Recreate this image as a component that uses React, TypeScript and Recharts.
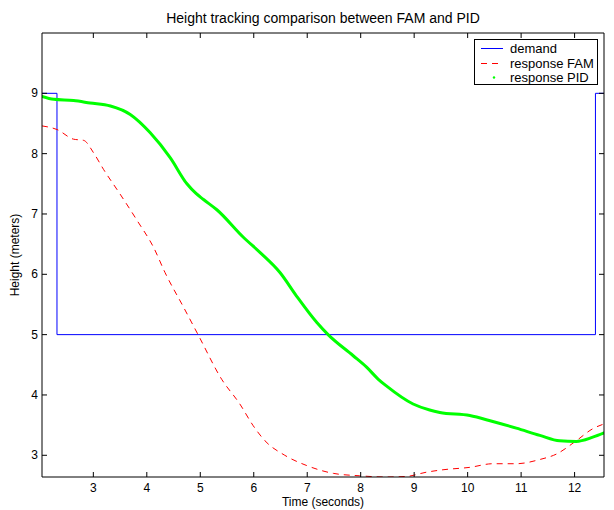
import React from "react";
import { LineChart, Line, XAxis, YAxis } from "recharts";

// demand step signal
const demandTime = [2.04, 2.32, 2.32, 12.39, 12.39, 12.55];
const demandHeight = [9, 9, 5, 5, 9, 9];

// FAM controller response
const famTime = [
  2.04, 2.32, 2.63, 2.82, 3.0, 3.19, 3.5, 3.82, 4.13, 4.34, 4.69, 4.97, 5.4, 5.74, 5.99, 6.21,
  6.58, 6.99, 7.49, 7.98, 8.48, 8.86, 9.23, 9.54, 10.04, 10.47, 10.91, 11.35, 11.66, 12.03, 12.34, 12.55,
];
const famHeight = [
  8.46, 8.4, 8.24, 8.22, 8.02, 7.74, 7.33, 6.89, 6.44, 6.03, 5.45, 4.98, 4.26, 3.85, 3.49, 3.24,
  3.0, 2.83, 2.7, 2.66, 2.64, 2.65, 2.72, 2.76, 2.8, 2.86, 2.86, 2.93, 3.02, 3.24, 3.44, 3.52,
];

// PID controller response
const pidTime = [
  2.04, 2.26, 2.63, 2.94, 3.32, 3.69, 4.06, 4.44, 4.75, 4.92, 5.06, 5.31, 5.81, 6.12, 6.49, 6.8,
  7.18, 7.39, 7.86, 8.11, 8.33, 8.48, 8.98, 9.29, 9.48, 10.04, 10.47, 10.91, 11.35, 11.72, 12.03, 12.34, 12.55,
];
const pidHeight = [
  8.95, 8.9, 8.88, 8.84, 8.79, 8.65, 8.35, 7.93, 7.5, 7.34, 7.24, 7.07, 6.61, 6.36, 6.03, 5.64,
  5.2, 5.0, 4.65, 4.46, 4.26, 4.15, 3.85, 3.75, 3.71, 3.66, 3.56, 3.45, 3.33, 3.24, 3.23, 3.3, 3.37,
];

const xTicks = [3, 4, 5, 6, 7, 8, 9, 10, 11, 12];
const yTicks = [3, 4, 5, 6, 7, 8, 9];

const demandData = demandTime.map((t, i) => ({ t, v: demandHeight[i] }));
const famData = famTime.map((t, i) => ({ t, v: famHeight[i] }));
const pidData = pidTime.map((t, i) => ({ t, v: pidHeight[i] }));

const FONT = "'Liberation Sans', Arial, Helvetica, sans-serif";

const BottomTick = ({ x, y, payload }: any) => (
  <g>
    <line x1={x} y1={y} x2={x} y2={y - 5} stroke="#000" />
    <text x={x} y={y + 11} textAnchor="middle" dominantBaseline="central" fontSize={12} fontFamily={FONT} fill="#000">
      {payload.value}
    </text>
  </g>
);

const TopTick = ({ x, y }: any) => <line x1={x} y1={y} x2={x} y2={y + 5} stroke="#000" />;

const LeftTick = ({ x, y, payload }: any) => (
  <g>
    <line x1={x} y1={y} x2={x + 5} y2={y} stroke="#000" />
    <text x={x - 4} y={y} textAnchor="end" dominantBaseline="central" fontSize={12} fontFamily={FONT} fill="#000">
      {payload.value}
    </text>
  </g>
);

const RightTick = ({ x, y }: any) => <line x1={x} y1={y} x2={x - 5} y2={y} stroke="#000" />;

const TitleLabel = ({ viewBox }: any) => (
  <text x={viewBox.x + viewBox.width / 2} y={18} textAnchor="middle" dominantBaseline="central" fontSize={14} fontFamily={FONT} fill="#000">
    Height tracking comparison between FAM and PID
  </text>
);

const XTitle = ({ viewBox }: any) => (
  <text x={viewBox.x + viewBox.width / 2} y={viewBox.y + 25} textAnchor="middle" dominantBaseline="central" fontSize={12} fontFamily={FONT} fill="#000">
    Time (seconds)
  </text>
);

const YTitle = ({ viewBox }: any) => {
  const cx = viewBox.x + 15;
  const cy = viewBox.y + viewBox.height / 2;
  return (
    <text x={cx} y={cy} transform={`rotate(-90, ${cx}, ${cy})`} textAnchor="middle" dominantBaseline="central" fontSize={12} fontFamily={FONT} fill="#000">
      Height (meters)
    </text>
  );
};

const LegendBox = () => (
  <svg width={124} height={46} style={{ display: "block" }}>
    <rect x={0.5} y={0.5} width={123} height={45} fill="#fff" stroke="#000" />
    <line x1={7} y1={9.5} x2={29} y2={9.5} stroke="#0000ff" />
    <text x={36} y={9.5} dominantBaseline="central" fontSize={13} fontFamily={FONT}>demand</text>
    <line x1={7} y1={24.5} x2={29} y2={24.5} stroke="#ff0000" strokeDasharray="6 5" />
    <text x={36} y={24.5} dominantBaseline="central" fontSize={13} fontFamily={FONT}>response FAM</text>
    <circle cx={20} cy={38.5} r={1.2} fill="#00ff00" />
    <text x={36} y={38.5} dominantBaseline="central" fontSize={13} fontFamily={FONT}>response PID</text>
  </svg>
);

export default function App() {
  return (
    <div style={{ position: "absolute", left: 0, top: 0, width: 614, height: 510, background: "#fff", fontFamily: FONT }}>
      <LineChart width={614} height={510} margin={{ top: 0, right: 0, bottom: 0, left: 0 }}>
        <XAxis
          xAxisId="b"
          type="number"
          dataKey="t"
          domain={[2.04, 12.55]}
          allowDataOverflow
          ticks={xTicks}
          height={33}
          tickSize={0}
          tickMargin={0}
          tickLine={false}
          axisLine={{ stroke: "#000" }}
          tick={<BottomTick />}
          interval={0}
          label={<XTitle />}
        />
        <XAxis
          xAxisId="t"
          orientation="top"
          type="number"
          dataKey="t"
          domain={[2.04, 12.55]}
          allowDataOverflow
          ticks={xTicks}
          height={33}
          tickSize={0}
          tickMargin={0}
          tickLine={false}
          axisLine={{ stroke: "#000" }}
          tick={<TopTick />}
          interval={0}
          label={<TitleLabel />}
        />
        <YAxis
          yAxisId="l"
          type="number"
          domain={[2.64, 10]}
          allowDataOverflow
          ticks={yTicks}
          width={42}
          tickSize={0}
          tickMargin={0}
          tickLine={false}
          axisLine={{ stroke: "#000" }}
          tick={<LeftTick />}
          interval={0}
          label={<YTitle />}
        />
        <YAxis
          yAxisId="r"
          orientation="right"
          type="number"
          domain={[2.64, 10]}
          allowDataOverflow
          ticks={yTicks}
          width={10}
          tickSize={0}
          tickMargin={0}
          tickLine={false}
          axisLine={{ stroke: "#000" }}
          tick={<RightTick />}
          interval={0}
        />
        <Line
          xAxisId="b"
          yAxisId="l"
          data={demandData}
          dataKey="v"
          type="linear"
          stroke="#0000ff"
          strokeWidth={1}
          dot={false}
          isAnimationActive={false}
        />
        <Line
          xAxisId="b"
          yAxisId="l"
          data={famData}
          dataKey="v"
          type="monotone"
          stroke="#ff0000"
          strokeWidth={1}
          strokeDasharray="6 5"
          dot={false}
          isAnimationActive={false}
        />
        <Line
          xAxisId="b"
          yAxisId="l"
          data={pidData}
          dataKey="v"
          type="monotone"
          stroke="#00ff00"
          strokeWidth={3}
          strokeLinecap="round"
          dot={false}
          isAnimationActive={false}
        />
      </LineChart>
      <div style={{ position: "absolute", left: 474, top: 39 }}>
        <LegendBox />
      </div>
    </div>
  );
}
